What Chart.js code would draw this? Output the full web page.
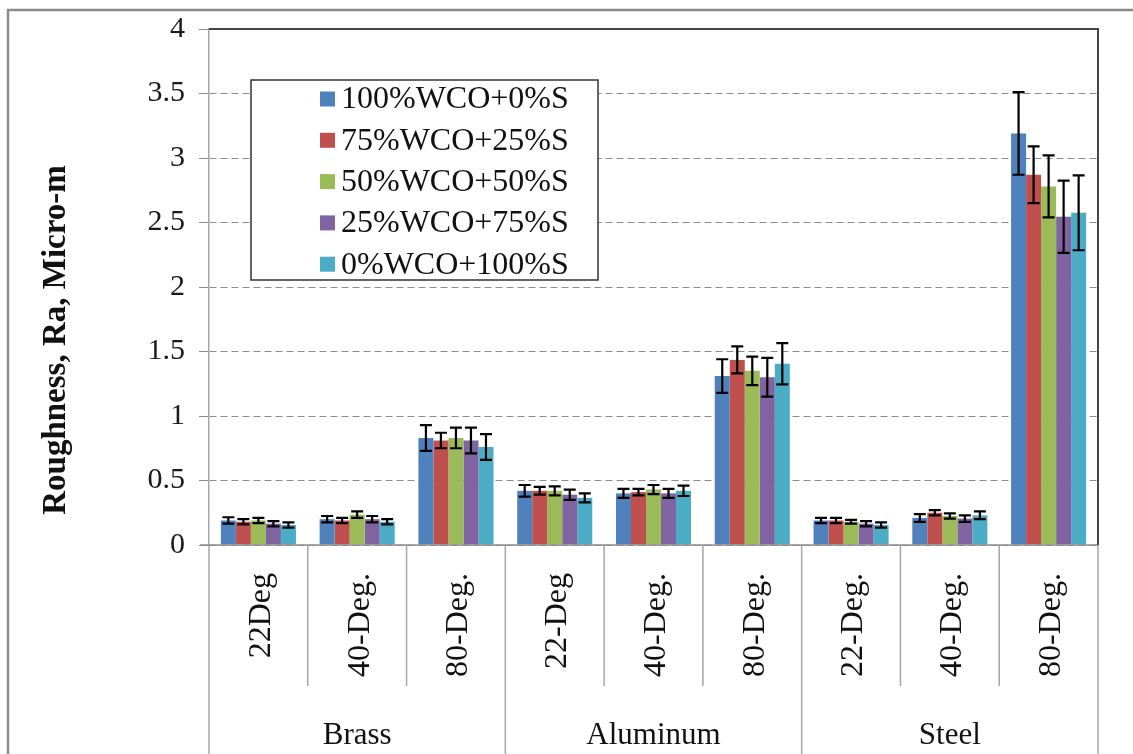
<!DOCTYPE html>
<html>
<head>
<meta charset="utf-8">
<title>Roughness chart</title>
<script src="https://cdn.jsdelivr.net/npm/chart.js@4/dist/chart.umd.min.js"></script>
<style>
  html, body { margin: 0; padding: 0; background: #fff; }
  canvas { display: block; }
</style>
</head>
<body>
<canvas id="chart" width="1133" height="754"></canvas>
<script>
// categories on the x axis, grouped by material
const angles = ['22Deg', '40-Deg.', '80-Deg.', '22-Deg', '40-Deg.', '80-Deg.', '22-Deg.', '40-Deg.', '80-Deg.'];
const materials = ['Brass', 'Aluminum', 'Steel'];
const seriesNames = ['100%WCO+0%S', '75%WCO+25%S', '50%WCO+50%S', '25%WCO+75%S', '0%WCO+100%S'];
const seriesColors = ['#4F81BD', '#C0504D', '#9BBB59', '#8064A2', '#4BACC6'];

// mean roughness Ra (micro-m)
const wco100 = [0.19, 0.20, 0.83, 0.42, 0.40, 1.31, 0.19, 0.21, 3.19];
const wco75 = [0.18, 0.19, 0.81, 0.42, 0.41, 1.435, 0.19, 0.25, 2.87];
const wco50 = [0.19, 0.235, 0.83, 0.42, 0.43, 1.35, 0.18, 0.225, 2.78];
const wco25 = [0.165, 0.20, 0.81, 0.39, 0.40, 1.30, 0.165, 0.205, 2.545];
const wco0 = [0.155, 0.18, 0.76, 0.365, 0.42, 1.405, 0.155, 0.23, 2.575];

// error bar half-lengths
const err100 = [0.025, 0.025, 0.10, 0.045, 0.035, 0.13, 0.02, 0.03, 0.32];
const err75 = [0.02, 0.02, 0.06, 0.03, 0.025, 0.105, 0.02, 0.02, 0.22];
const err50 = [0.02, 0.025, 0.08, 0.035, 0.035, 0.11, 0.015, 0.02, 0.24];
const err25 = [0.02, 0.025, 0.10, 0.04, 0.035, 0.15, 0.02, 0.025, 0.28];
const err0 = [0.02, 0.02, 0.10, 0.035, 0.04, 0.16, 0.02, 0.03, 0.29];

const yTicks = [0, 0.5, 1, 1.5, 2, 2.5, 3, 3.5, 4];

const serif = "'Liberation Serif', 'Times New Roman', serif";
const values = [wco100, wco75, wco50, wco25, wco0];
const errors = [err100, err75, err50, err25, err0];

const errorBars = {
  id: 'errorBars',
  afterDatasetsDraw(chart) {
    const ctx = chart.ctx;
    const y = chart.scales.y;
    ctx.save();
    ctx.strokeStyle = '#000';
    ctx.lineWidth = 2.2;
    chart.data.datasets.forEach((ds, i) => {
      chart.getDatasetMeta(i).data.forEach((bar, j) => {
        const hi = y.getPixelForValue(ds.data[j] + ds.errors[j]);
        const lo = y.getPixelForValue(ds.data[j] - ds.errors[j]);
        const x = bar.x;
        ctx.beginPath();
        ctx.moveTo(x, hi); ctx.lineTo(x, lo);
        ctx.moveTo(x - 6, hi); ctx.lineTo(x + 6, hi);
        ctx.moveTo(x - 6, lo); ctx.lineTo(x + 6, lo);
        ctx.stroke();
      });
    });
    ctx.restore();
  }
};

const decorations = {
  id: 'decorations',
  afterDraw(chart) {
    const ctx = chart.ctx;
    const area = chart.chartArea;
    const x = chart.scales.x;
    const y = chart.scales.y;
    const bottom = chart.height;
    const zero = y.getPixelForValue(0);
    ctx.save();

    // outer frame
    ctx.strokeStyle = '#8c8c8c';
    ctx.lineWidth = 2.5;
    ctx.beginPath();
    ctx.moveTo(8, bottom); ctx.lineTo(8, 10); ctx.lineTo(chart.width, 10);
    ctx.stroke();

    // category table below the axis
    ctx.strokeStyle = '#a6a6a6';
    ctx.lineWidth = 1.5;
    ctx.beginPath();
    ctx.moveTo(area.left, zero); ctx.lineTo(area.left, bottom);
    for (let i = 1; i < angles.length; i++) {
      const bx = (x.getPixelForValue(i - 1) + x.getPixelForValue(i)) / 2;
      ctx.moveTo(bx, zero);
      ctx.lineTo(bx, i % 3 === 0 ? bottom : 686);
    }
    ctx.moveTo(area.right, zero); ctx.lineTo(area.right, bottom);
    ctx.stroke();

    // x axis line
    ctx.strokeStyle = '#8c8c8c';
    ctx.beginPath();
    ctx.moveTo(area.left - 9, zero); ctx.lineTo(area.right, zero);
    ctx.stroke();

    // plot area border, top and right
    ctx.strokeStyle = '#444';
    ctx.lineWidth = 2;
    ctx.beginPath();
    ctx.moveTo(area.left, area.top); ctx.lineTo(area.right, area.top); ctx.lineTo(area.right, zero);
    ctx.stroke();

    ctx.fillStyle = '#111';
    // rotated angle labels
    ctx.font = '32px ' + serif;
    ctx.textAlign = 'right';
    ctx.textBaseline = 'middle';
    angles.forEach((label, i) => {
      ctx.save();
      ctx.translate(x.getPixelForValue(i) + 3, 573);
      ctx.rotate(-Math.PI / 2);
      ctx.fillText(label, 0, 0);
      ctx.restore();
    });

    // material labels
    ctx.font = '31px ' + serif;
    ctx.textAlign = 'center';
    ctx.textBaseline = 'alphabetic';
    materials.forEach((m, g) => {
      const cx = (x.getPixelForValue(g * 3) + x.getPixelForValue(g * 3 + 2)) / 2;
      ctx.fillText(m, cx, 744);
    });

    // y axis title
    ctx.save();
    ctx.translate(56, 340);
    ctx.rotate(-Math.PI / 2);
    ctx.font = 'bold 33px ' + serif;
    ctx.textAlign = 'center';
    ctx.textBaseline = 'middle';
    ctx.fillText('Roughness, Ra, Micro-m', 0, 0);
    ctx.restore();

    // legend box
    ctx.fillStyle = '#fff';
    ctx.fillRect(251, 80, 347, 200);
    ctx.strokeStyle = '#333';
    ctx.lineWidth = 1.5;
    ctx.strokeRect(251, 80, 347, 200);
    ctx.font = '32px ' + serif;
    ctx.textAlign = 'left';
    ctx.textBaseline = 'middle';
    chart.data.datasets.forEach((ds, i) => {
      const cy = 99 + i * 41.3;
      ctx.fillStyle = ds.backgroundColor;
      ctx.fillRect(320, cy - 7.5, 15, 15);
      ctx.fillStyle = '#111';
      ctx.fillText(ds.label, 341, cy + 1);
    });

    ctx.restore();
  }
};

new Chart(document.getElementById('chart'), {
  type: 'bar',
  data: {
    labels: angles,
    datasets: seriesNames.map((name, i) => ({
      label: name,
      data: values[i],
      errors: errors[i],
      backgroundColor: seriesColors[i],
      borderWidth: 0,
      categoryPercentage: 0.76,
      barPercentage: 1.0
    }))
  },
  options: {
    responsive: false,
    animation: false,
    devicePixelRatio: 1,
    layout: { padding: { left: 0, top: 29, right: 35, bottom: 209 } },
    plugins: {
      legend: { display: false },
      tooltip: { enabled: false }
    },
    scales: {
      x: { display: false },
      y: {
        min: 0,
        max: 4,
        afterBuildTicks: scale => { scale.ticks = yTicks.map(v => ({ value: v })); },
        afterFit: scale => {
          scale.width = 209;
          scale.paddingTop = 0;
          scale.paddingBottom = 0;
        },
        ticks: {
          padding: 14,
          color: '#1a1a1a',
          font: { family: serif, size: 30 },
          callback: value => String(value)
        },
        grid: {
          color: '#8c8c8c',
          lineWidth: 1,
          tickLength: 10,
          tickColor: '#8c8c8c',
          tickBorderDash: []
        },
        border: { display: true, color: '#a6a6a6', width: 1.5, dash: [7, 4] }
      }
    }
  },
  plugins: [errorBars, decorations]
});
</script>
</body>
</html>
